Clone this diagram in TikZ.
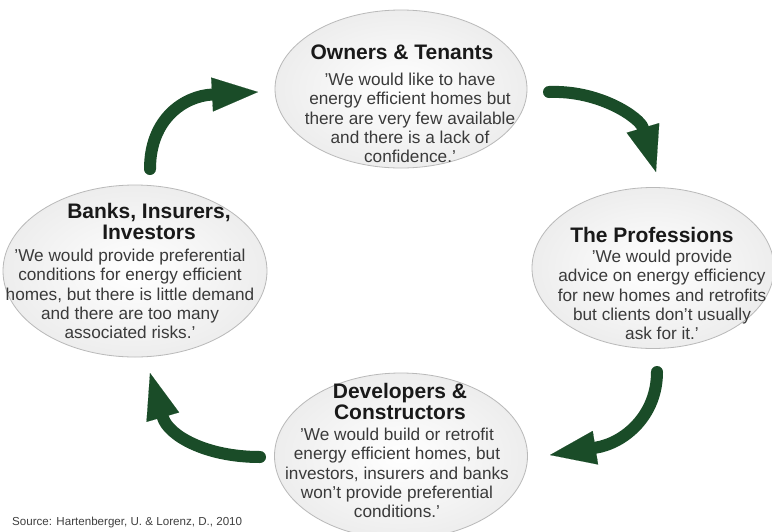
\documentclass[tikz,border=0pt]{standalone}
\usepackage{fontspec}
\setmainfont{Liberation Sans}
\usepackage{xcolor}
\usepackage{tikz}
\usetikzlibrary{shapes.geometric, arrows.meta}
\definecolor{cyclegreen}{RGB}{26,76,40}
\definecolor{quotegray}{RGB}{58,58,58}
\tikzset{
  bubble/.style={ellipse, draw=gray!55, line width=0.8pt, inner color=white, outer color=gray!14},
  actor/.style={font=\fontsize{21}{21}\selectfont\bfseries, text=black!90, align=center, inner sep=0pt},
  quote/.style={font=\fontsize{17.2}{19.2}\selectfont, text=quotegray, align=center, inner sep=0pt},
  source/.style={font=\fontsize{11.6}{13}\selectfont, text=black!75, inner sep=0pt},
  cyclearrow/.style={cyclegreen, line width=12pt, line cap=round, -{Triangle[length=46pt, width=34pt, line width=0.1pt]}}
}

\begin{document}
\begin{tikzpicture}[x=1pt, y=-1pt]
\useasboundingbox (0,0) rectangle (772,531);
\fill[white] (0,0) rectangle (772,531);

% Top: Owners & Tenants
\node[bubble, minimum width=252pt, minimum height=158pt] (owners) at (401,89) {};
\node[actor] (owners-title) at (402,52) {Owners \& Tenants};
\node[quote] (owners-quote) at (410,118) {'We would like to have\\energy efficient homes but\\there are very few available\\and there is a lack of\\confidence.'};

% Right: The Professions
\node[bubble, minimum width=242pt, minimum height=161pt] (professions) at (653,268) {};
\node[actor] (professions-title) at (652,235) {The Professions};
\node[quote] (professions-quote) at (662,295) {'We would provide\\advice on energy efficiency\\for new homes and retrofits\\but clients don't usually\\ask for it.'};

% Bottom: Developers & Constructors
\node[bubble, minimum width=253pt, minimum height=166pt] (developers) at (401,456) {};
\node[actor] (developers-title) at (400,401) {Developers \&\\Constructors};
\node[quote] (developers-quote) at (397,473) {'We would build or retrofit\\energy efficient homes, but\\investors, insurers and banks\\won't provide preferential\\conditions.'};

% Left: Banks, Insurers, Investors
\node[bubble, minimum width=264pt, minimum height=172pt] (banks) at (135,271) {};
\node[actor] (banks-title) at (149,221) {Banks, Insurers,\\Investors};
\node[quote] (banks-quote) at (130,294) {'We would provide preferential\\conditions for energy efficient\\homes, but there is little demand\\and there are too many\\associated risks.'};

% Cycle arrows
\coordinate (banks-out) at (150,169);
\coordinate (owners-in) at (258,92);
\draw[cyclearrow] (banks-out) .. controls (150,118) and (185,96) .. (owners-in);

\coordinate (owners-out) at (549,92);
\coordinate (professions-in) at (656,172);
\draw[cyclearrow] (owners-out) .. controls (600,90) and (640,118) .. (professions-in);

\coordinate (professions-out) at (657,372);
\coordinate (developers-in) at (550,455);
\draw[cyclearrow] (professions-out) .. controls (657,415) and (625,443) .. (developers-in);

\coordinate (developers-out) at (260,457);
\coordinate (banks-in) at (150,373);
\draw[cyclearrow] (developers-out) .. controls (205,457) and (168,435) .. (banks-in);

% Source line
\node[source, anchor=west] (source) at (12,522) {Source: Hartenberger, U. \& Lorenz, D., 2010};
\end{tikzpicture}
\end{document}
